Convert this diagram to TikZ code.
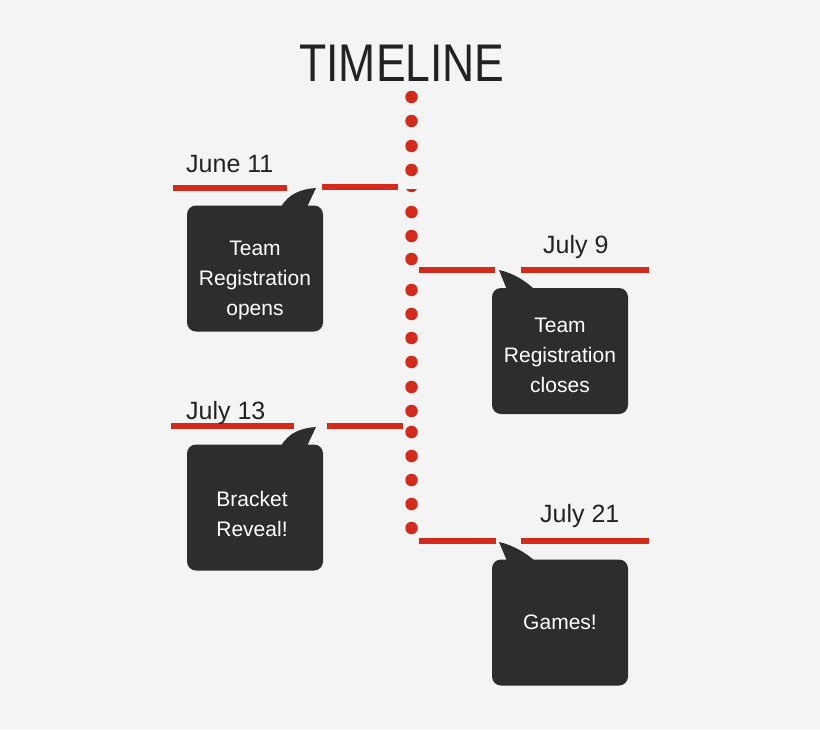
\documentclass[tikz,border=0pt]{standalone}
\usepackage{fontspec}
\setmainfont{Liberation Sans}
\definecolor{bg}{HTML}{F4F4F4}
\definecolor{tlred}{HTML}{D42A1C}
\definecolor{boxgray}{HTML}{2D2D2D}
\definecolor{ink}{HTML}{222222}
\begin{document}
\begin{tikzpicture}[x=1pt,y=-1pt,
  bar/.style={draw=tlred,line width=6.5pt},
  tldot/.style={circle,fill=tlred,inner sep=0pt,minimum size=12.5pt},
  callout/.style={fill=boxgray,rounded corners=9pt,inner sep=0pt,minimum width=136pt,minimum height=126pt},
  tail/.style={fill=boxgray},
  boxtext/.style={text=white,align=center,font=\fontsize{21}{30}\selectfont},
  datetext/.style={text=ink,anchor=base west,inner sep=0pt,font=\fontsize{25}{30}\selectfont},
]
\fill[bg] (0,0) rectangle (820,729);
\useasboundingbox (0,0) rectangle (820,729);

% title
\node[text=ink,font=\fontsize{53}{60}\selectfont] (title) at (402,63) {\scalebox{0.84}[1]{TIMELINE}};

% timeline dots
\foreach \y [count=\i] in {97,121,146,170,212,236,259,290,314,338,362,387,411,432,456,480,504,528}
  \node[tldot] (d\i) at (411.5,\y) {};
\begin{scope}
  \clip (400,189.5) rectangle (424,196);
  \fill[tlred] (411.5,186) circle (6.2pt);
\end{scope}

% bar end coordinates
\coordinate (a1) at (173,188); \coordinate (a2) at (287,188);
\coordinate (a3) at (322,187); \coordinate (a4) at (398,187);
\coordinate (b1) at (419,270); \coordinate (b2) at (495,270);
\coordinate (b3) at (521,270); \coordinate (b4) at (649,270);
\coordinate (c1) at (171,426); \coordinate (c2) at (294,426);
\coordinate (c3) at (327,426); \coordinate (c4) at (403,426);
\coordinate (e1) at (419,541); \coordinate (e2) at (496,541);
\coordinate (e3) at (521,541); \coordinate (e4) at (649,541);
\foreach \p in {a,b,c,e} {
  \draw[bar] (\p1) -- (\p2);
  \draw[bar] (\p3) -- (\p4);
}

% dates
\node[datetext] (dt1) at (186,172) {June 11};
\node[datetext] (dt2) at (543,253) {July 9};
\node[datetext] (dt3) at (186,419) {July 13};
\node[datetext] (dt4) at (540,522) {July 21};

% callout boxes
\node[callout] (box1) at (255,268.5) {};
\node[callout] (box2) at (560,351) {};
\node[callout] (box3) at (255,507.5) {};
\node[callout] (box4) at (560,622.5) {};

% tails
\fill[tail] (281,207) .. controls (289,193) and (302,189) .. (316,188) -- (307,207) -- cycle;
\fill[tail] (281,446) .. controls (289,432) and (302,428) .. (316,427) -- (307,446) -- cycle;
\fill[tail] (499,270) .. controls (513,273) and (526,281) .. (535,290) -- (507,290) -- cycle;
\fill[tail] (499,542) .. controls (513,545) and (526,553) .. (535,561) -- (507,561) -- cycle;

% texts
\node[boxtext] (t1) at (255,280) {Team\\Registration\\opens};
\node[boxtext] (t2) at (560,355.5) {Team\\Registration\\closes};
\node[boxtext] (t3) at (252,513.5) {Bracket\\Reveal!};
\node[boxtext] (t4) at (560,622) {Games!};
\end{tikzpicture}
\end{document}
